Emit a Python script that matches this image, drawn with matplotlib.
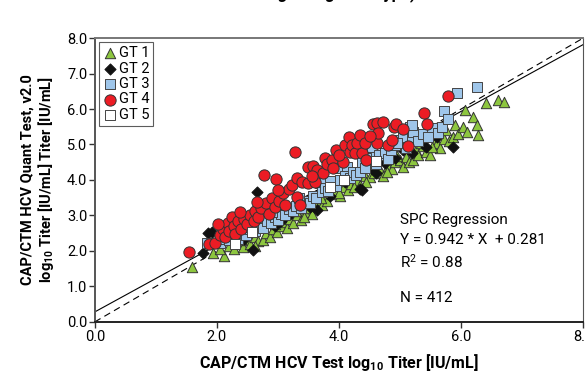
import matplotlib
matplotlib.use('Agg')
import matplotlib.pyplot as plt

plt.rcParams['font.family'] = ['Roboto', 'DejaVu Sans']
plt.rcParams['mathtext.default'] = 'regular'

# GT 1 (green triangles)
gt1_x = [1.59, 1.93, 2.11, 2.05, 2.20, 2.28, 2.35, 2.42, 2.50, 2.55, 2.62, 2.68, 2.75, 2.80,
         2.87, 2.92, 2.98, 3.05, 3.10, 3.15, 3.20, 3.25, 3.32, 3.38, 3.45, 3.50, 3.55, 3.64,
         3.60, 3.72, 3.74, 3.80, 3.88, 3.97, 4.02, 4.08, 4.15, 4.20, 4.30, 4.35, 4.42, 4.51,
         4.58, 4.67, 4.72, 4.80, 4.87, 4.92, 5.00, 5.05, 5.10, 5.15, 5.21, 5.26, 5.30, 5.38,
         5.43, 5.49, 5.55, 5.60, 5.65, 5.72, 5.80, 5.86, 5.90, 5.95, 6.03, 6.07, 6.10, 6.20,
         6.26, 6.28, 6.41, 6.61, 6.70, 2.40, 2.95, 3.30, 3.70, 4.00, 4.45, 4.95, 5.35, 5.75,
         2.62, 3.42, 4.25, 4.78, 5.52]
gt1_y = [1.55, 1.94, 1.86, 2.05, 2.15, 2.05, 2.25, 2.12, 2.30, 2.20, 2.40, 2.28, 2.30, 2.50,
         2.40, 2.62, 2.52, 2.70, 2.82, 2.65, 2.90, 2.78, 3.00, 2.88, 3.10, 3.20, 3.05, 3.44,
         3.30, 3.30, 3.52, 3.40, 3.60, 3.72, 3.55, 3.80, 3.72, 3.90, 4.00, 3.85, 4.10, 4.08,
         4.20, 4.28, 4.10, 4.40, 4.31, 4.50, 4.56, 4.37, 4.65, 4.50, 4.56, 4.85, 4.70, 4.95,
         4.80, 4.70, 5.00, 5.05, 4.90, 5.15, 5.10, 5.20, 5.55, 5.30, 5.49, 5.97, 5.35, 5.77,
         5.55, 5.27, 6.17, 6.25, 6.20, 2.35, 2.75, 3.12, 3.48, 3.62, 3.95, 4.68, 5.05, 5.40,
         2.15, 2.95, 3.80, 4.22, 4.92]

# GT 2 (black diamonds)
gt2_x = [1.77, 1.85, 1.92, 2.59, 2.66, 2.45, 2.95, 3.20, 3.49, 3.56, 3.52, 3.64, 3.85, 4.10,
         4.34, 4.38, 4.60, 4.75, 4.92, 5.05, 5.38, 5.43, 5.60, 5.87, 2.25, 3.05, 4.55, 5.20]
gt2_y = [1.94, 2.50, 2.54, 2.03, 3.66, 2.35, 2.70, 3.05, 3.44, 3.49, 3.24, 3.15, 3.55, 3.95,
         3.75, 3.72, 4.20, 4.48, 4.62, 4.85, 5.27, 4.93, 5.20, 4.93, 2.32, 2.85, 4.30, 4.75]

# GT 3 (blue squares)
gt3_x = [1.84, 2.05, 2.12, 2.20, 2.28, 2.35, 2.40, 2.48, 2.55, 2.62, 2.70, 2.75, 2.82, 2.88,
         2.95, 3.00, 3.05, 3.12, 3.18, 3.25, 3.30, 3.38, 3.45, 3.52, 3.58, 3.62, 3.69, 3.72,
         3.77, 3.82, 3.90, 3.95, 4.02, 4.02, 4.13, 4.10, 4.18, 4.23, 4.28, 4.34, 4.38, 4.42,
         4.51, 4.54, 4.60, 4.66, 4.75, 4.80, 4.85, 4.92, 5.00, 5.05, 5.10, 5.16, 5.20, 5.21,
         5.20, 5.30, 5.38, 5.52, 5.62, 5.69, 5.72, 5.79, 5.93, 6.26, 2.15, 2.45, 2.90, 3.35,
         3.85, 4.45, 4.95, 5.45]
gt3_y = [2.22, 2.22, 2.35, 2.30, 2.42, 2.35, 2.50, 2.45, 2.62, 2.55, 2.75, 2.65, 2.85, 2.78,
         2.95, 2.88, 3.05, 3.00, 3.18, 3.12, 3.28, 3.22, 3.40, 3.35, 3.55, 3.48, 3.92, 3.65,
         3.77, 3.70, 3.90, 3.82, 4.00, 4.34, 4.37, 4.10, 4.05, 4.23, 4.15, 4.23, 4.51, 4.35,
         4.65, 4.93, 4.45, 4.70, 4.76, 4.60, 4.85, 4.99, 5.13, 5.21, 4.90, 5.49, 5.21, 5.35,
         5.55, 5.10, 5.30, 5.46, 5.32, 5.49, 5.94, 5.72, 6.45, 6.62, 2.50, 2.68, 3.10, 3.50,
         3.98, 4.62, 5.05, 5.20]

# GT 4 (red circles)
gt4_x = [1.55, 1.87, 1.97, 2.05, 2.10, 2.13, 2.18, 2.20, 2.25, 2.28, 2.30, 2.35, 2.40, 2.45,
         2.50, 2.55, 2.60, 2.62, 2.68, 2.72, 2.77, 2.80, 2.85, 2.90, 2.95, 2.97, 3.02, 3.08,
         3.12, 3.18, 3.23, 3.28, 3.31, 3.31, 3.36, 3.40, 3.49, 3.49, 3.57, 3.61, 3.64, 3.74,
         3.77, 3.80, 3.89, 3.90, 3.95, 4.07, 4.10, 4.16, 4.18, 4.21, 4.26, 4.30, 4.34, 4.38,
         4.43, 4.44, 4.56, 4.62, 4.62, 4.64, 4.72, 4.80, 4.87, 4.90, 4.93, 5.05, 5.13, 5.39,
         5.44, 5.79, 2.02, 2.38, 2.65, 3.00, 3.55, 4.00, 4.50]
gt4_y = [1.97, 2.20, 2.21, 2.45, 2.62, 2.38, 2.80, 2.55, 2.95, 2.70, 2.48, 2.85, 2.62, 2.90,
         2.75, 3.00, 2.85, 3.12, 2.95, 3.20, 4.14, 3.35, 3.05, 3.50, 3.25, 4.03, 3.40, 3.62,
         3.30, 3.75, 3.86, 4.79, 4.06, 3.52, 3.30, 3.95, 3.92, 4.37, 4.39, 3.94, 4.28, 4.20,
         4.62, 4.45, 4.56, 4.34, 4.85, 4.51, 4.99, 5.21, 4.79, 4.99, 4.76, 5.04, 5.27, 4.76,
         5.04, 4.56, 5.58, 5.60, 5.04, 5.32, 5.63, 4.99, 5.13, 5.49, 5.58, 5.44, 4.96, 5.89,
         5.58, 6.37, 2.75, 3.10, 3.38, 3.72, 4.10, 4.70, 5.25]

# GT 5 (white squares)
gt5_x = [2.30, 2.57, 3.85, 4.08, 4.61]
gt5_y = [2.20, 2.54, 3.80, 4.00, 4.54]

slope = 0.942
intercept = 0.281
line_x = [0.0, 8.0]


def main():
    fig = plt.figure(figsize=(5.85, 3.73), dpi=100)
    ax = fig.add_axes([0.162, 0.137, 0.835, 0.761])

    ax.plot(line_x, [slope * v + intercept for v in line_x], color='black', lw=0.8, zorder=1)
    ax.plot(line_x, line_x, color='black', lw=0.8, ls=(0, (6, 4)), zorder=1)

    ax.scatter(gt1_x, gt1_y, marker='^', s=56, c='#8dc63f', edgecolors='#333333',
               linewidths=0.7, label='GT 1', zorder=2)
    ax.scatter(gt2_x, gt2_y, marker='D', s=32, c='#111111', edgecolors='#111111',
               linewidths=0.7, label='GT 2', zorder=3)
    ax.scatter(gt3_x, gt3_y, marker='s', s=54, c='#9fc6ea', edgecolors='#444444',
               linewidths=0.7, label='GT 3', zorder=3)
    ax.scatter(gt4_x, gt4_y, marker='o', s=66, c='#ec1c24', edgecolors='#333333',
               linewidths=0.7, label='GT 4', zorder=4)
    ax.scatter(gt5_x, gt5_y, marker='s', s=54, c='white', edgecolors='#444444',
               linewidths=0.7, label='GT 5', zorder=5)

    ax.set_xlim(0, 8)
    ax.set_ylim(0, 8)
    ax.set_xticks([0, 2, 4, 6, 8])
    ax.set_xticklabels(['0.0', '2.0', '4.0', '6.0', '8.0'])
    ax.set_yticks(range(9))
    ax.set_yticklabels(['%.1f' % v for v in range(9)])
    ax.tick_params(labelsize=10.5, length=4, width=1, color='#333333', pad=1.5)

    for side in ['top', 'left', 'bottom']:
        ax.spines[side].set_linewidth(1.4)
    ax.spines['top'].set_color('#777777')
    ax.spines['left'].set_color('#555555')
    ax.spines['bottom'].set_color('#222222')
    ax.spines['right'].set_linewidth(0.8)
    ax.spines['right'].set_color('#555555')

    leg = ax.legend(loc='upper left', fontsize=10.5, frameon=True, fancybox=False,
                    edgecolor='#333333', borderaxespad=0.3, handletextpad=0.1,
                    labelspacing=0.1, borderpad=0.25, handlelength=1.0, scatterpoints=1)
    leg.get_frame().set_linewidth(0.8)

    ax.text(5.0, 2.87, 'SPC Regression', fontsize=11, va='center')
    ax.text(5.0, 2.31, 'Y = 0.942 * X  + 0.281', fontsize=11, va='center')
    ax.text(5.0, 1.69, 'R$^2$ = 0.88', fontsize=11, va='center')
    ax.text(5.0, 0.68, 'N = 412', fontsize=11, va='center')

    ax.set_xlabel('CAP/CTM HCV Test log$_{10}$ Titer [IU/mL]', fontsize=11.5,
                  fontweight='bold', labelpad=6)
    ax.set_ylabel('CAP/CTM HCV Quant Test, v2.0\nlog$_{10}$ Titer [IU/mL] Titer [IU/mL]',
                  fontsize=10.5, fontweight='bold', labelpad=8, linespacing=1.1)

    # title mostly cut off by the top edge in the source picture
    fig.text(0.575, 1.005, 'Regarding Genotype)', fontsize=12, fontweight='bold',
             ha='center', va='baseline')

    fig.savefig('out.png', dpi=100)
    plt.close(fig)


if __name__ == '__main__':
    main()
